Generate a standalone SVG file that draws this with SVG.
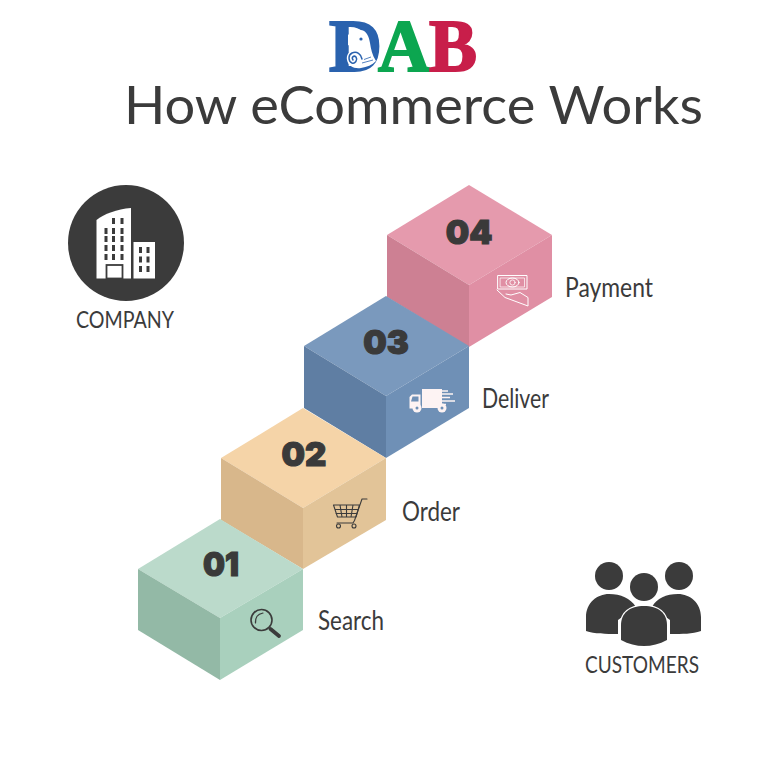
<svg xmlns="http://www.w3.org/2000/svg" width="768" height="768" viewBox="0 0 768 768">
<style>
.lab{font-family:"Lato","Noto Sans",sans-serif;fill:#3b3b3b;font-size:27px}
.cap{font-family:"Lato","Noto Sans",sans-serif;fill:#3b3b3b;font-size:24px}
.num{font-family:"Inter","Roboto",sans-serif;font-weight:900;fill:#3a3a3a;font-size:33px;stroke:#3a3a3a;stroke-width:1.2px;text-anchor:middle}
.logo{font-family:"Liberation Serif",serif;font-weight:700;font-size:74px;stroke-width:2px}
.ln{fill:none;stroke-linecap:round;stroke-linejoin:round}
</style>
<rect width="768" height="768" fill="#fff"/>
<g id="logo">
<text class="logo" x="329" y="71" fill="#2a62ae" stroke="#2a62ae" textLength="53" lengthAdjust="spacingAndGlyphs">D</text>
<path d="M348 35C352 31 357 29 361 30C367 31 369 37 370 43C371 49 372 55 376 61C372 65 367 67 361 68C354 69 348 66 347 60C346 54 350 50 354 52L350 46L348 45Z" fill="#fff"/>
<circle cx="361" cy="39" r="1.600" fill="#2a62ae"/>
<path d="M353 60C351 57 354 55 356 57C358 60 355 64 352 63C348 61 348 55 352 53C357 51 361 54 362 59" fill="none" stroke="#2a62ae" stroke-width="1.500" stroke-linecap="round"/>
<path d="M362 63L373 60M364 59.500L371 57" fill="none" stroke="#2a62ae" stroke-width=".8"/>
<text class="logo" x="378" y="71" fill="#0ca650" stroke="#0ca650" textLength="52" lengthAdjust="spacingAndGlyphs">A</text>
<text class="logo" x="429" y="71" fill="#c81e4a" stroke="#c81e4a" textLength="48" lengthAdjust="spacingAndGlyphs">B</text>
</g>
<text id="title" x="124" y="124" font-family="Lato,'Noto Sans',sans-serif" font-size="53" fill="#3b3b3b" textLength="579" lengthAdjust="spacingAndGlyphs">How eCommerce Works</text>
<g id="company">
<circle cx="126" cy="243" r="58" fill="#3b3b3b"/>
<path d="M96.500 278.500V220C104 214 117 209 131 208V278.500Z" fill="#fff"/>
<rect x="133.500" y="242" width="21.500" height="36.500" fill="#fff"/>
<rect x="106.500" y="265" width="16" height="13.500" fill="#fff" stroke="#3b3b3b" stroke-width="1.800"/>
<g fill="#3b3b3b">
<path d="M112 218h3v6h-3zM120.500 218h3v6h-3zM104.500 228h3v6h-3zM112 228h3v6h-3zM120.500 228h3v6h-3zM104.500 236h3v6h-3zM112 236h3v6h-3zM120.500 236h3v6h-3zM104.500 245h3v6h-3zM112 245h3v6h-3zM120.500 245h3v6h-3zM104.500 254h3v6h-3zM112 254h3v6h-3zM120.500 254h3v6h-3z"/>
<path d="M139 247h3v6h-3zM146.500 247h3v6h-3zM139 256.500h3v6h-3zM146.500 256.500h3v6h-3zM139 266h3v6h-3zM146.500 266h3v6h-3z"/>
</g>
<text class="cap" x="76" y="328" textLength="98" lengthAdjust="spacingAndGlyphs">COMPANY</text>
</g>
<g id="customers">
<g fill="#3b3b3b">
<circle cx="609" cy="576" r="14"/><circle cx="679" cy="576" r="14"/>
<path d="M586 631V617C586 603 597 594 609 594C621 594 630 598 636 607L618 620V634C605 634 595 634 586 631Z"/>
<path d="M701 631V617C701 603 690 594 678 594C666 594 657 598 652 607L670 620V634C683 634 692 634 701 631Z"/>
<circle cx="644" cy="587" r="14"/>
<path d="M621 640V625C621 613 630 606 644 606C658 606 667 613 667 625V640C652 648 636 648 621 640Z" stroke="#fff" stroke-width="2.500" paint-order="stroke"/>
</g>
<text class="cap" x="585" y="673" textLength="114" lengthAdjust="spacingAndGlyphs">CUSTOMERS</text>
</g>
<g id="step-04">
<path d="M469 185L552 235L469 285L387 235Z" fill="#e59aad"/>
<path d="M387 235L469 285V347L387 297Z" fill="#cd8093"/>
<path d="M552 235L469 285V347L552 297Z" fill="#e08fa4"/>
<text class="num" x="469" y="244">04</text>
<g class="ln" stroke="#fff" stroke-width="1">
<path d="M498 275.500H527V289H498Z"/>
<path d="M500.500 278H524.500V287H500.500Z" stroke-width=".7"/>
<ellipse cx="512.500" cy="282.500" rx="6.500" ry="4.500"/><circle cx="512.500" cy="282.500" r="2.600" stroke-width=".8"/>
<path d="M497 290L505 297.500L528 306V297.500L520 292.500L511 295L506 294"/>
</g>
<text class="lab" x="565" y="297" textLength="88" lengthAdjust="spacingAndGlyphs">Payment</text>
</g>
<g id="step-03">
<path d="M386 296L469 346L386 396L304 346Z" fill="#7a99bd"/>
<path d="M304 346L386 396V458L304 408Z" fill="#5f7ea3"/>
<path d="M469 346L386 396V458L469 408Z" fill="#6f90b6"/>
<text class="num" x="386" y="354">03</text>
<g fill="#fdf3f3">
<rect x="422" y="389" width="20" height="19"/>
<path d="M409.500 397L412 394.500H420.500V408.500H409.500Z"/>
<path d="M412.500 396.500H418.500V401.500H411Z" fill="#6f90b6"/>
<circle cx="417" cy="408" r="4.500"/><circle cx="442" cy="408" r="4.500"/>
<circle cx="417" cy="408" r="1.500" fill="#6f90b6"/><circle cx="442" cy="408" r="1.500" fill="#6f90b6"/>
</g>
<g stroke="#fdf3f3" stroke-width="1.600" fill="none">
<path d="M440 391H448M441 394H453M441 397.500H450M441 401H455M441 404.500H446"/>
</g>
<text class="lab" x="482" y="408" textLength="67" lengthAdjust="spacingAndGlyphs">Deliver</text>
</g>
<g id="step-02">
<path d="M303 408L386 458L303 508L221 458Z" fill="#f5d4a8"/>
<path d="M221 458L303 508V569L221 520Z" fill="#d8b78b"/>
<path d="M386 458L303 508V569L386 520Z" fill="#e2c498"/>
<text class="num" x="304" y="466">02</text>
<g class="ln" stroke="#3b3b3b" stroke-width="1.100">
<path d="M333.500 505L359.500 505L356 517H337.500ZM340 505L342 517M346.500 505V517M353 505L351 517M335 509.500H358M336 513.500H357"/>
<path d="M367 499H362L354.500 520.500L353 523H337"/>
<circle cx="338.500" cy="526" r="2"/><circle cx="354" cy="526" r="2"/>
</g>
<text class="lab" x="402" y="521" textLength="58" lengthAdjust="spacingAndGlyphs">Order</text>
</g>
<g id="step-01">
<path d="M220 519L303 569L220 618L138 569Z" fill="#bbdacb"/>
<path d="M138 569L220 618V680L138 630Z" fill="#93b9a6"/>
<path d="M303 569L220 618V680L303 630Z" fill="#a9d0bd"/>
<text class="num" x="221" y="576" textLength="36" lengthAdjust="spacingAndGlyphs">01</text>
<g fill="none" stroke="#3b3b3b">
<circle cx="261.500" cy="620" r="10.500" stroke-width="1.600"/>
<path d="M255.500 623C255 617 258 614 263 613" stroke-width="1.200" stroke-linecap="round"/>
<path d="M270.500 629L279 636" stroke-width="3.800" stroke-linecap="round"/>
</g>
<text class="lab" x="318" y="630" textLength="66" lengthAdjust="spacingAndGlyphs">Search</text>
</g>
</svg>
